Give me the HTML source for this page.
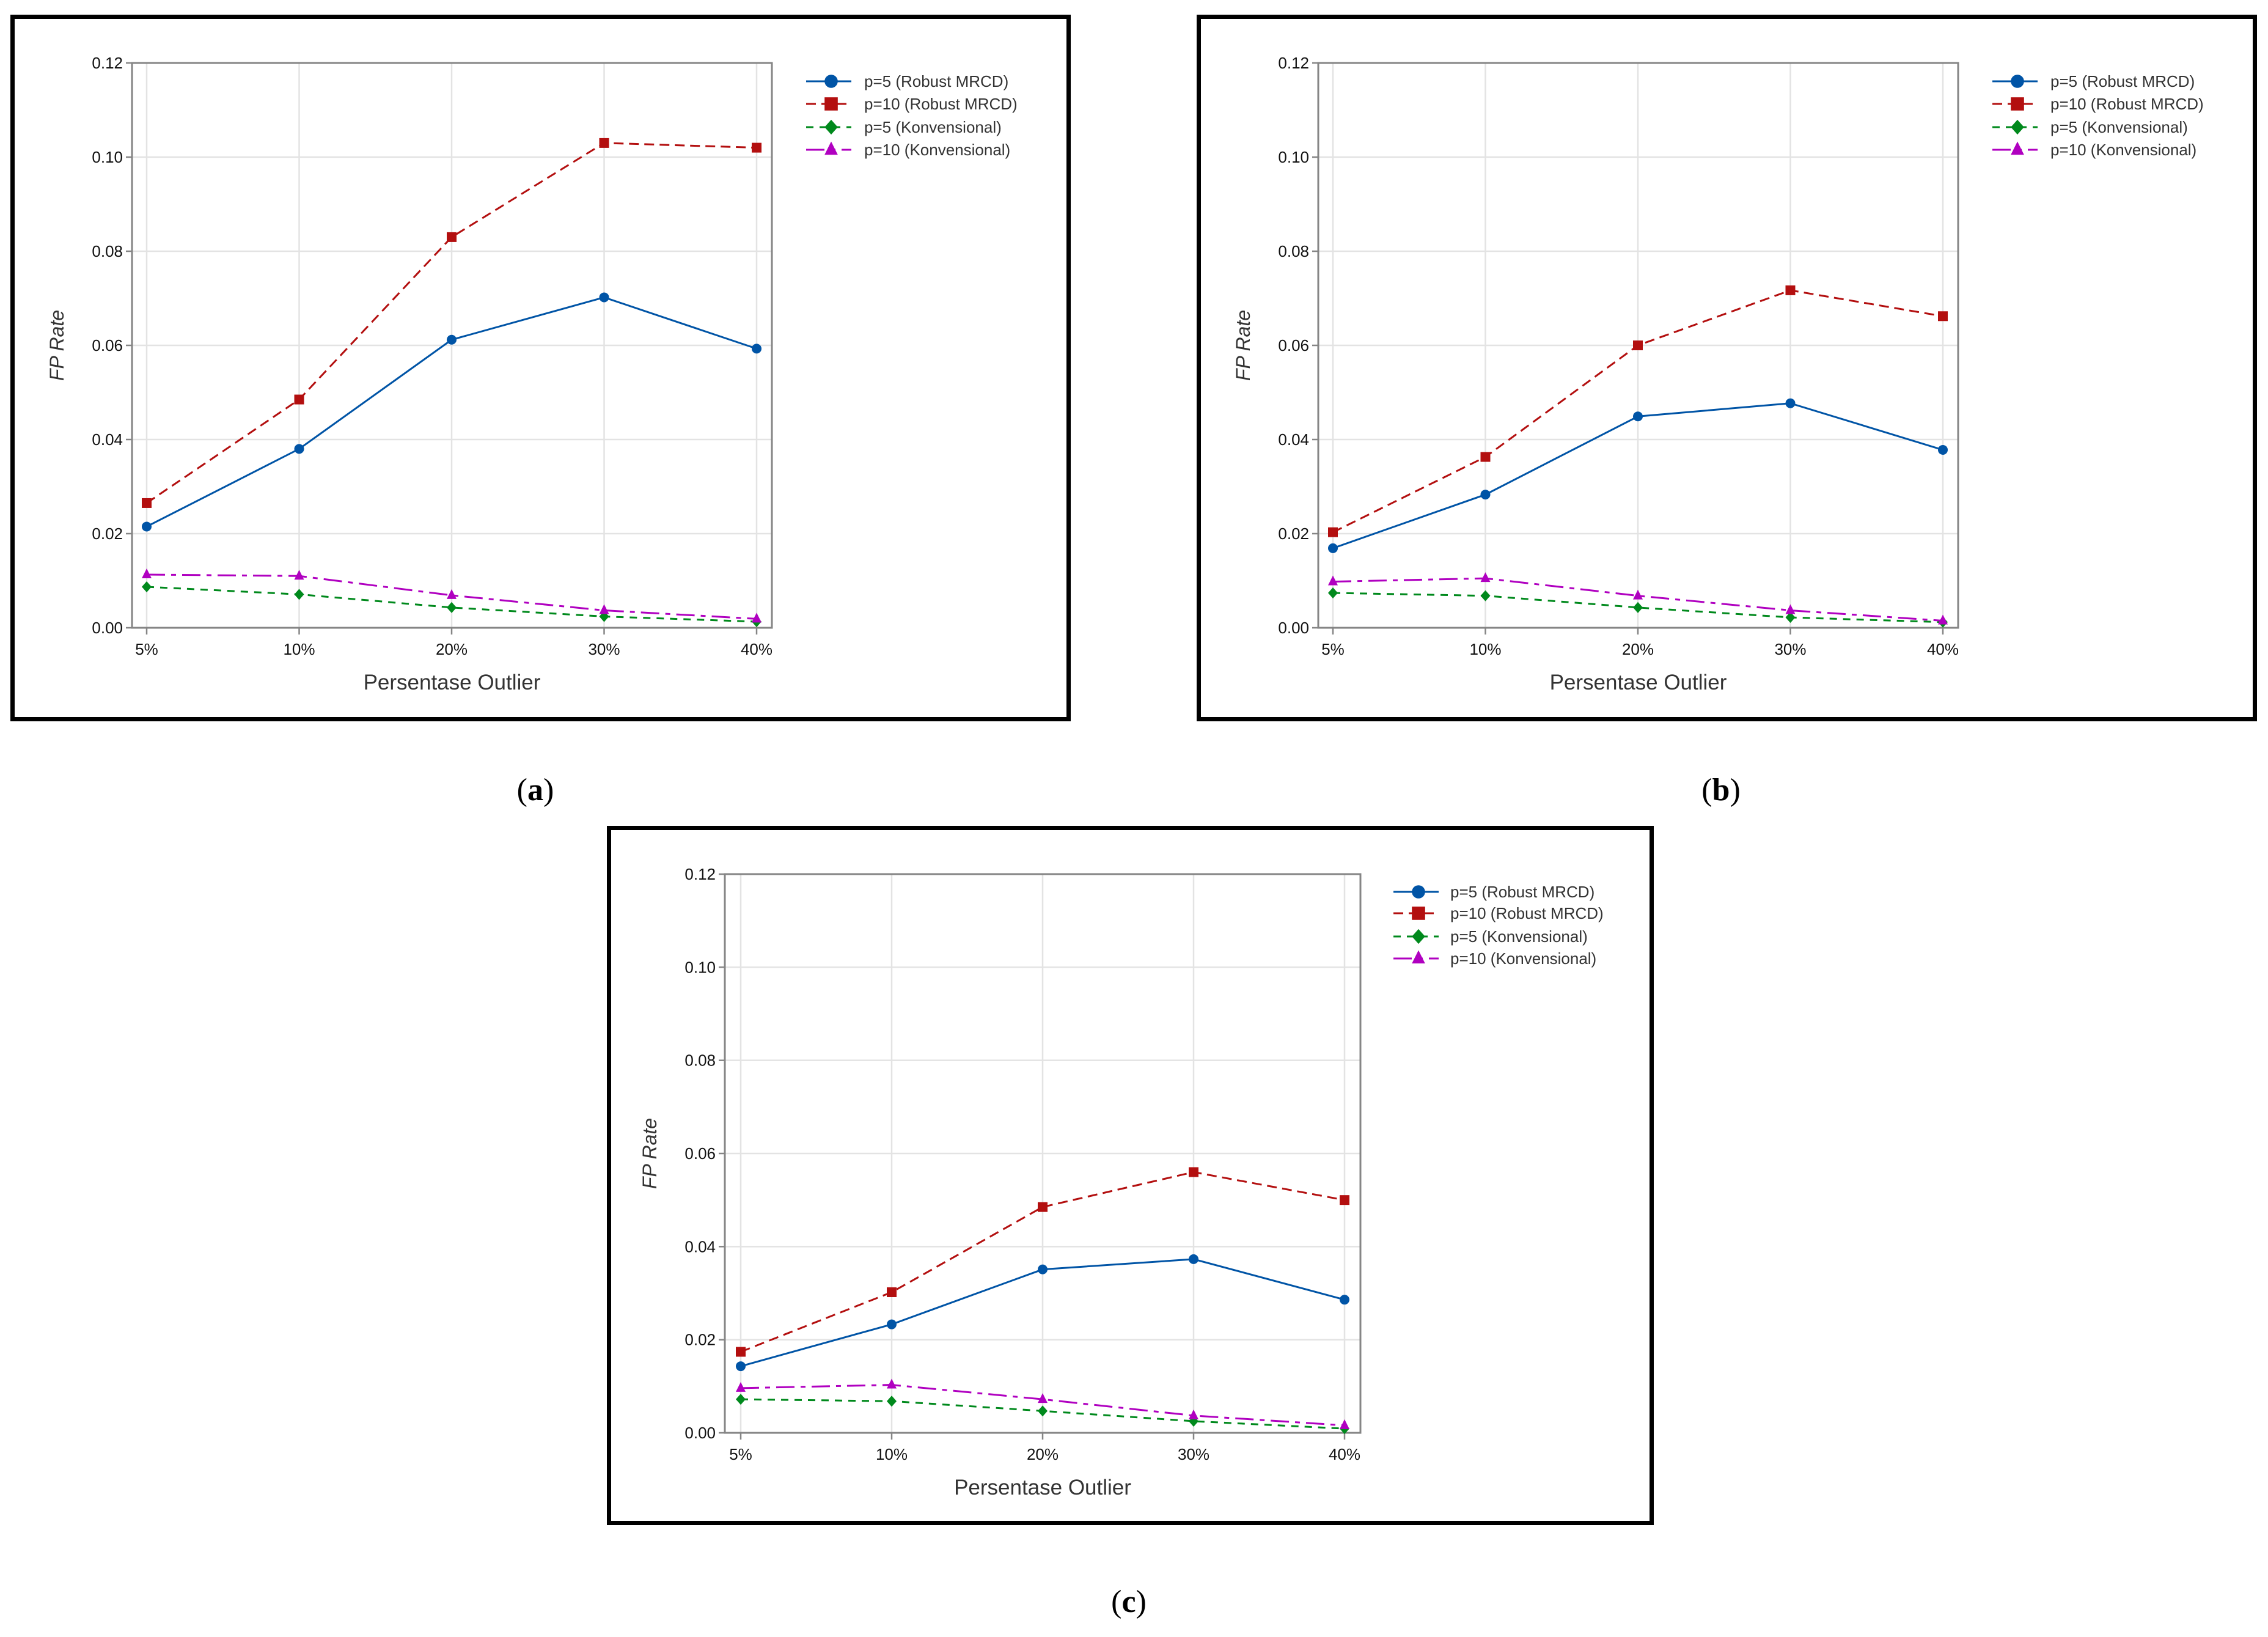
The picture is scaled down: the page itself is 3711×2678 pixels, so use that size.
<!DOCTYPE html>
<html><head><meta charset="utf-8"><style>
html,body{margin:0;padding:0;background:#fff;}
svg{display:block;}
text{font-family:"Liberation Sans",sans-serif;}
</style></head><body>
<svg id="fig" width="3711" height="2678" viewBox="0 0 3711 2678" xmlns="http://www.w3.org/2000/svg"></svg>
<script>
const categories = ["5%","10%","20%","30%","40%"];
const yTicks = [0,0.02,0.04,0.06,0.08,0.10,0.12];
const yTickLabels = ["0.00","0.02","0.04","0.06","0.08","0.10","0.12"];
const seriesNames = ["p=5 (Robust MRCD)","p=10 (Robust MRCD)","p=5 (Konvensional)","p=10 (Konvensional)"];
const a_p5Robust = [0.0215,0.038,0.0612,0.0702,0.0593];
const a_p10Robust = [0.0265,0.0485,0.083,0.103,0.102];
const a_p5Konv = [0.0087,0.0071,0.0043,0.0024,0.0013];
const a_p10Konv = [0.0113,0.011,0.0069,0.0037,0.0019];
const b_p5Robust = [0.0169,0.0283,0.0449,0.0477,0.0378];
const b_p10Robust = [0.0203,0.0363,0.060,0.0717,0.0662];
const b_p5Konv = [0.0074,0.0068,0.0043,0.0022,0.0012];
const b_p10Konv = [0.0098,0.0105,0.0068,0.0037,0.0015];
const c_p5Robust = [0.0143,0.0233,0.0351,0.0373,0.0286];
const c_p10Robust = [0.0174,0.0302,0.0485,0.056,0.050];
const c_p5Konv = [0.0072,0.0068,0.0047,0.0025,0.0009];
const c_p10Konv = [0.0096,0.0103,0.0072,0.0037,0.0016];

const NS="http://www.w3.org/2000/svg";
const svg=document.getElementById('fig');
function mk(tag,attrs,parent){const e=document.createElementNS(NS,tag);for(const k in attrs)e.setAttribute(k,attrs[k]);(parent||svg).appendChild(e);return e;}

const styles=[
 {color:"#0054a6",dash:"",marker:"circle"},
 {color:"#b30f0f",dash:"16 9",marker:"square"},
 {color:"#00891c",dash:"12 10",marker:"diamond"},
 {color:"#b000c0",dash:"30 10 8 10",marker:"triangle"}
];
const panels=[
 {id:"a",label:"a",border:[17,24,1752,1180],px0:216,px1:1263,py0:103,py1:1027,x0:240,x1:1238,leg:[1319,1393,1414,[133,170,208,245]],lab:[876,1293],data:[a_p5Robust,a_p10Robust,a_p5Konv,a_p10Konv]},
 {id:"b",label:"b",border:[1958,24,3693,1180],px0:2157,px1:3204,py0:103,py1:1027,x0:2181,x1:3179,leg:[3260,3334,3355,[133,170,208,245]],lab:[2816,1293],data:[b_p5Robust,b_p10Robust,b_p5Konv,b_p10Konv]},
 {id:"c",label:"c",border:[993,1351,2706,2495],px0:1186,px1:2226,py0:1430,py1:2344,x0:1212,x1:2200,leg:[2280,2354,2373,[1459,1494,1532,1568]],lab:[1847,2621],data:[c_p5Robust,c_p10Robust,c_p5Konv,c_p10Konv]}
];

function marker(g,type,x,y,color,s){
  let m;
  if(type==="circle") m=mk('circle',{cx:x,cy:y,r:8*s,fill:color},g);
  else if(type==="square") m=mk('rect',{x:x-8*s,y:y-8*s,width:16*s,height:16*s,fill:color},g);
  else if(type==="diamond") m=mk('polygon',{points:`${x},${y-9*s} ${x+8*s},${y} ${x},${y+9*s} ${x-8*s},${y}`,fill:color},g);
  else m=mk('polygon',{points:`${x},${y-10*s} ${x+8*s},${y+6*s} ${x-8*s},${y+6*s}`,fill:color},g);
  return m;
}

panels.forEach(p=>{
  const g=mk('g',{});
  
  
  const [bx0,by0,bx1,by1]=p.border;
  const br=mk('rect',{x:bx0+3.5,y:by0+3.5,width:bx1-bx0-7,height:by1-by0-7,fill:"#fff",stroke:"#000","stroke-width":7},g);
  
  
  const xs=i=>p.x0+(p.x1-p.x0)*i/(categories.length-1);
  const ys=v=>p.py1-(p.py1-p.py0)*v/0.12;
  yTicks.forEach((t,i)=>{
    if(i>0&&i<yTicks.length-1){const l=mk('line',{x1:p.px0,x2:p.px1,y1:ys(t),y2:ys(t),stroke:"#e3e3e3","stroke-width":2.5},g);
    }
  });
  categories.forEach((c,i)=>{
    const l=mk('line',{x1:xs(i),x2:xs(i),y1:p.py0,y2:p.py1,stroke:"#e3e3e3","stroke-width":2.5},g);
    
  });
  const ax=mk('rect',{x:p.px0,y:p.py0,width:p.px1-p.px0,height:p.py1-p.py0,fill:"none",stroke:"#858585","stroke-width":3},g);
  
  yTicks.forEach((t,i)=>{
    mk('line',{x1:p.px0-10,x2:p.px0,y1:ys(t),y2:ys(t),stroke:"#858585","stroke-width":2.5},g);
    const tx=mk('text',{x:p.px0-15,y:ys(t)+9,"text-anchor":"end","font-size":26,fill:"#111"},g);
    tx.textContent=yTickLabels[i];
    
  });
  categories.forEach((c,i)=>{
    mk('line',{x1:xs(i),x2:xs(i),y1:p.py1,y2:p.py1+11,stroke:"#858585","stroke-width":2.5},g);
    const tx=mk('text',{x:xs(i),y:p.py1+44,"text-anchor":"middle","font-size":26,fill:"#111"},g);
    tx.textContent=c;
    
  });
  const xt=mk('text',{x:(p.px0+p.px1)/2,y:p.py1+101,"text-anchor":"middle","font-size":35,fill:"#333"},g);
  xt.textContent="Persentase Outlier";
  
  const yx=p.px0-112, yy=(p.py0+p.py1)/2;
  const yt=mk('text',{x:yx,y:yy,"text-anchor":"middle","font-size":32,"font-style":"italic",fill:"#333",transform:`rotate(-90 ${yx} ${yy})`},g);
  yt.textContent="FP Rate";
  
  p.data.forEach((arr,si)=>{
    const st=styles[si];
    const sg=mk('g',{},g);
    
    
    const pts=arr.map((v,i)=>xs(i)+","+ys(v)).join(" ");
    const pl=mk('polyline',{points:pts,fill:"none",stroke:st.color,"stroke-width":3,"stroke-dasharray":st.dash},sg);
    
    arr.forEach((v,i)=>{
      const m=marker(sg,st.marker,xs(i),ys(v),st.color,1);
      
      
    });
  });
  const [lx0,lx1,tx0,rows]=p.leg;
  seriesNames.forEach((n,si)=>{
    const st=styles[si];
    const lg=mk('g',{},g);
    
    
    mk('line',{x1:lx0,x2:lx1,y1:rows[si],y2:rows[si],stroke:st.color,"stroke-width":3,"stroke-dasharray":st.dash},lg);
    marker(lg,st.marker,(lx0+lx1)/2+4,rows[si],st.color,1.35);
    const t=mk('text',{x:tx0,y:rows[si]+9,"font-size":26,fill:"#333"},lg);
    t.textContent=n;
  });
  const lb=mk('text',{x:p.lab[0],y:p.lab[1]+16,"text-anchor":"middle","font-size":52,fill:"#000",style:"font-family:'Liberation Serif',serif"});
  lb.innerHTML='(<tspan font-weight="bold">'+p.label+'</tspan>)';
  
  
});
</script>
</body></html>
